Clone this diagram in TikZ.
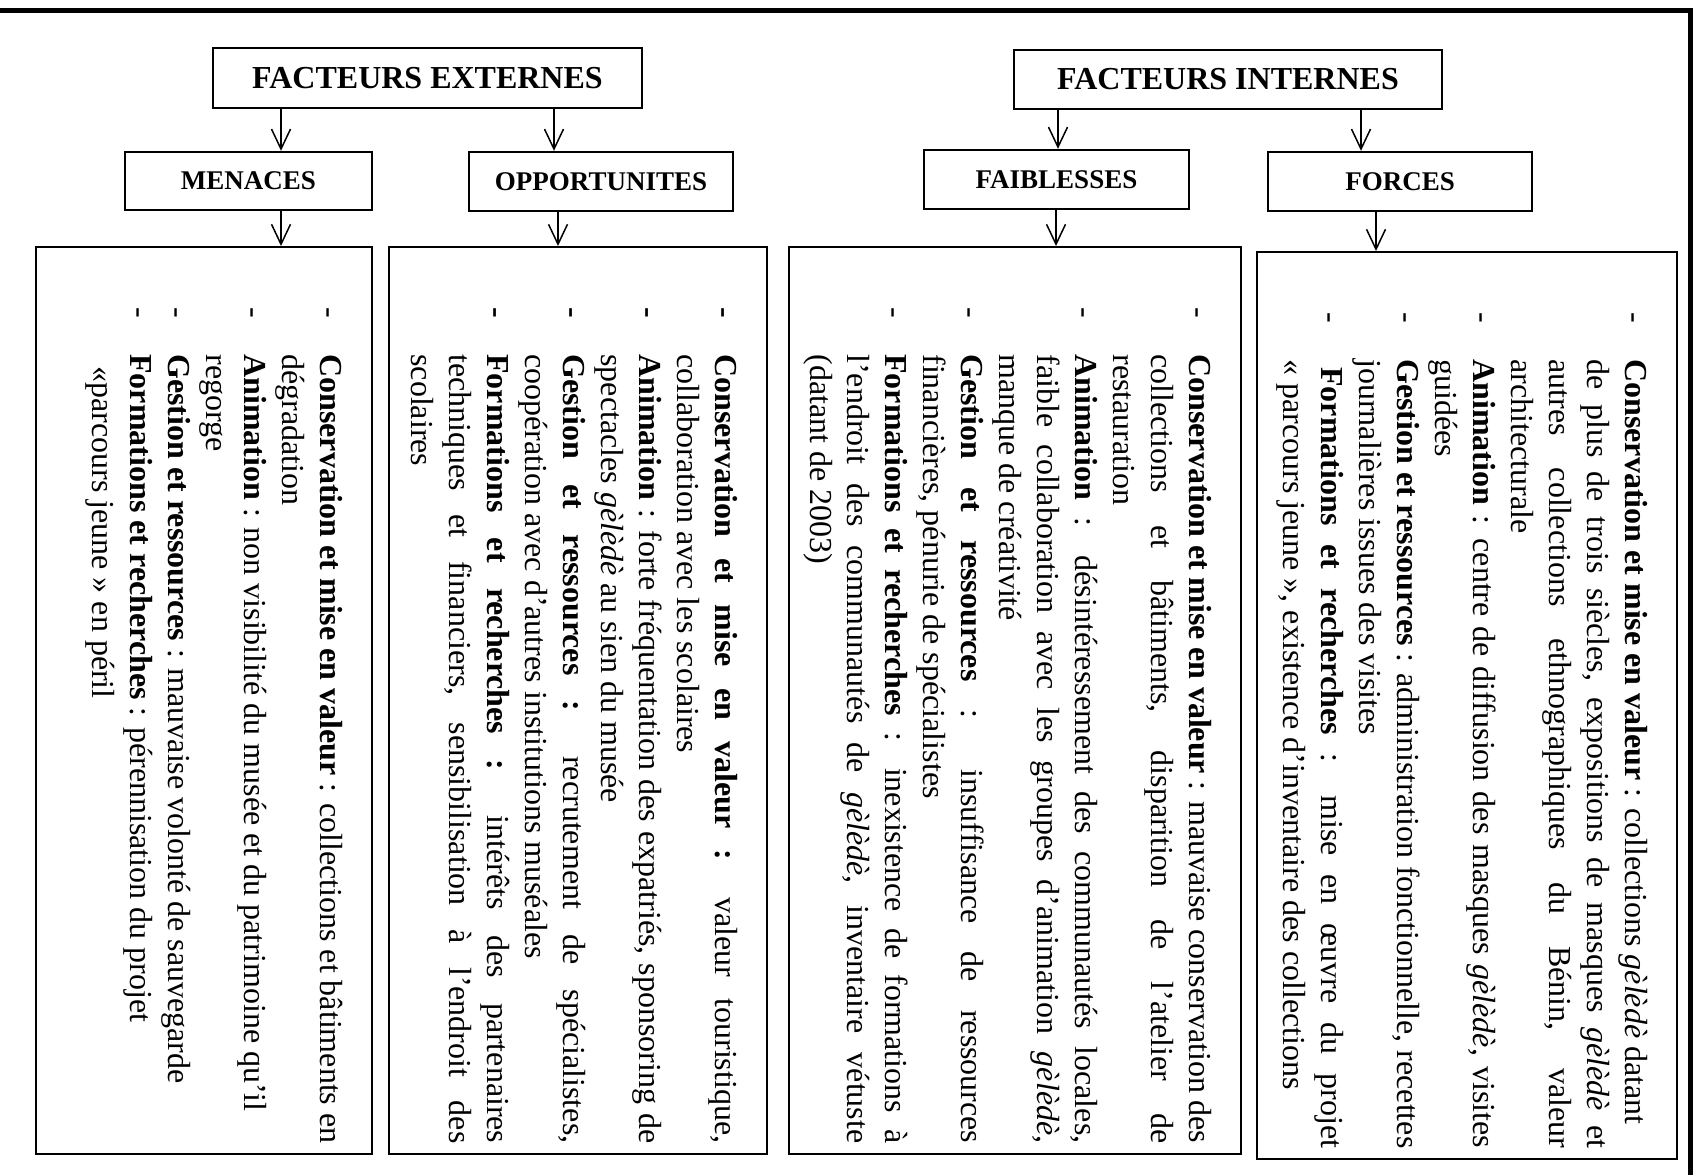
\documentclass[tikz,border=0pt]{standalone}
\usepackage{fontspec}
\setmainfont{Liberation Serif}
\usetikzlibrary{arrows.meta}
\newlength\swottw \setlength\swottw{394.5pt}
\newlength\swotdw \setlength\swotdw{23.5pt}
\newcommand\swotDJ[2]{\hbox{\makebox[\swotdw][l]{#1}\makebox[\swottw][s]{#2}}}
\newcommand\swotDR[2]{\hbox{\makebox[\swotdw][l]{#1}#2}}
\newcommand\swotCJ[1]{\hbox{\kern\swotdw\relax\makebox[\swottw][s]{#1}}}
\newcommand\swotCR[1]{\hbox{\kern\swotdw\relax #1}}
\newcommand\swotblock[1]{\vtop{\baselineskip=18.95pt\lineskiplimit=-100pt\lineskip=0pt #1}}
\tikzset{
  hdr/.style={draw, line width=1.2pt, inner sep=0pt, font=\bfseries\fontsize{16pt}{19pt}\selectfont},
  sub/.style={draw, line width=1.2pt, inner sep=0pt, font=\bfseries\fontsize{13.5pt}{16pt}\selectfont},
  big/.style={draw, line width=1pt, inner sep=0pt},
  arr/.style={-{Straight Barb[length=10pt,width=9.5pt]}, line width=0.75pt},
  txt/.style={rotate=-90, anchor=base west, inner sep=0pt, font=\fontsize{16pt}{18.95pt}\selectfont}
}
\begin{document}
\begin{tikzpicture}[x=0.5pt,y=-0.5pt]
\fill[white] (0,0) rectangle (1702,1174);
\useasboundingbox (0,0) rectangle (1702,1174);
% outer frame (top and right)
\draw[line width=2.5pt] (-10,10.5) -- (1690,10.5) -- (1690,1190);
% header boxes
\node[hdr, minimum width=214.5pt, minimum height=30pt] (ext) at (427.5,78) {FACTEURS EXTERNES};
\node[hdr, minimum width=214pt, minimum height=29.5pt] (int) at (1228,79.5) {FACTEURS INTERNES};
\node[sub, minimum width=123.5pt, minimum height=29pt] (men) at (248.5,181) {MENACES};
\node[sub, minimum width=132pt, minimum height=29.5pt] (opp) at (601,181.5) {OPPORTUNITES};
\node[sub, minimum width=132.5pt, minimum height=29.5pt] (fai) at (1056.5,179.5) {FAIBLESSES};
\node[sub, minimum width=132pt, minimum height=29.5pt] (frc) at (1400,181.5) {FORCES};
% big boxes
\node[big, minimum width=168pt, minimum height=453.5pt] (b1) at (204,700.5) {};
\node[big, minimum width=189pt, minimum height=453.5pt] (b2) at (578,700.5) {};
\node[big, minimum width=226pt, minimum height=453.5pt] (b3) at (1015,700.5) {};
\node[big, minimum width=210pt, minimum height=453.5pt] (b4) at (1467,705.5) {};
% arrow columns
\coordinate (a1) at (281,0);
\coordinate (a2) at (554,0);
\coordinate (a3) at (558,0);
\coordinate (a4) at (1058,0);
\coordinate (a5) at (1361,0);
\coordinate (a6) at (1056,0);
\coordinate (a7) at (1376,0);
\draw[arr] (ext.south -| a1) -- (men.north -| a1);
\draw[arr] (ext.south -| a2) -- (opp.north -| a2);
\draw[arr] (men.south -| a1) -- (b1.north -| a1);
\draw[arr] (opp.south -| a3) -- (b2.north -| a3);
\draw[arr] (int.south -| a4) -- (fai.north -| a4);
\draw[arr] (int.south -| a5) -- (frc.north -| a5);
\draw[arr] (fai.south -| a6) -- (b3.north -| a6);
\draw[arr] (frc.south -| a7) -- (b4.north -| a7);
% texts
\node[txt] (t1) at (320,307) {\swotblock{%
\swotDR{-}{\textbf{Conservation et mise en valeur} : collections et bâtiments en}
\swotCR{dégradation}
\swotDR{-}{\textbf{Animation} : non visibilité du musée et du patrimoine qu’il}
\swotCR{regorge}
\swotDR{-}{\textbf{Gestion et ressources} : mauvaise volonté de sauvegarde}
\swotDR{-}{\textbf{Formations et recherches} : pérennisation du projet}
\swotCR{\kern6pt «parcours jeune » en péril}}};
\node[txt] (t2) at (715,307) {\swotblock{%
\swotDJ{\textbf{-}}{\textbf{Conservation et mise en valeur :} valeur touristique,}
\swotCR{collaboration avec les scolaires}
\swotDJ{\textbf{-}}{\textbf{Animation} : forte fréquentation des expatriés, sponsoring de}
\swotCR{spectacles \textit{gèlèdè} au sien du musée}
\swotDJ{\textbf{-}}{\textbf{Gestion et ressources :} recrutement de spécialistes,}
\swotCR{coopération avec d’autres institutions muséales}
\swotDJ{\textbf{-}}{\textbf{Formations et recherches :} intérêts des partenaires}
\swotCJ{techniques et financiers, sensibilisation à l’endroit des}
\swotCR{scolaires}}};
\node[txt] (t3) at (1189,307) {\swotblock{%
\swotDJ{-}{\textbf{Conservation et mise en valeur} : mauvaise conservation des}
\swotCJ{collections et bâtiments, disparition de l’atelier de}
\swotCR{restauration}
\swotDJ{-}{\textbf{Animation} : désintéressement des communautés locales,}
\swotCJ{faible collaboration avec les groupes d’animation \textit{gèlèdè},}
\swotCR{manque de créativité}
\swotDJ{-}{\textbf{Gestion et ressources} : insuffisance de ressources}
\swotCR{financières, pénurie de spécialistes}
\swotDJ{-}{\textbf{Formations et recherches} : inexistence de formations à}
\swotCJ{l’endroit des communautés de \textit{gèlèdè}, inventaire vétuste}
\swotCR{(datant de 2003)}}};
\node[txt] (t4) at (1625,312) {\swotblock{%
\swotDR{-}{\textbf{Conservation et mise en valeur} : collections \textit{gèlèdè} datant}
\swotCJ{de plus de trois siècles, expositions de masques \textit{gèlèdè} et}
\swotCJ{autres collections ethnographiques du Bénin, valeur}
\swotCR{architecturale}
\swotDJ{-}{\textbf{Animation} : centre de diffusion des masques \textit{gèlèdè}, visites}
\swotCR{guidées}
\swotDJ{-}{\textbf{Gestion et ressources} : administration fonctionnelle, recettes}
\swotCR{journalières issues des visites}
\swotDJ{-}{\kern4pt\textbf{Formations et recherches} : mise en œuvre du projet}
\swotCR{«~parcours jeune~», existence d’inventaire des collections}}};
\end{tikzpicture}
\end{document}
